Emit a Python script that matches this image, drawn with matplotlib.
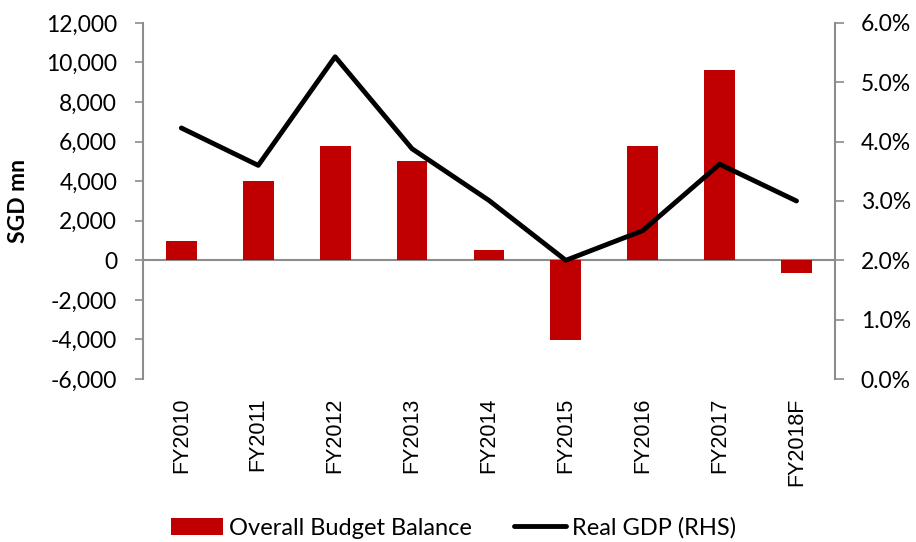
import numpy as np
import matplotlib.pyplot as plt
from matplotlib.ticker import FuncFormatter

years = ['FY2010', 'FY2011', 'FY2012', 'FY2013', 'FY2014',
         'FY2015', 'FY2016', 'FY2017', 'FY2018F']
budget_balance = [960, 4000, 5800, 5000, 540, -4050, 5800, 9600, -620]
real_gdp = [4.23, 3.60, 5.43, 3.88, 3.01, 2.00, 2.50, 3.62, 3.00]

plt.rcParams['font.family'] = ['Lato', 'DejaVu Sans']
grey = '#8c8c8c'

fig = plt.figure(figsize=(9.16, 5.42), dpi=100)
ax = fig.add_axes([0.156, 0.3007, 0.7555, 0.657])
x = np.arange(len(years))

bars = ax.bar(x, budget_balance, width=0.4, color='#c00000', zorder=2,
              label='Overall Budget Balance')
ax.axhline(0, color=grey, lw=1.5, zorder=1)
ax.set_ylim(-6000, 12000)
ax.set_yticks(np.arange(-6000, 12001, 2000))
ax.yaxis.set_major_formatter(FuncFormatter(lambda v, p: f'{int(v):,}'))
ax.set_xlim(-0.5, len(years) - 0.5)
ax.set_xticks(x)
ax.set_xticklabels(years, rotation=90, family=['Liberation Sans', 'DejaVu Sans'],
                   fontsize=15.5)
ax.tick_params(axis='x', length=0, pad=13.5)
ax.tick_params(axis='y', length=6, width=1.2, color=grey, labelsize=16.5, pad=12.5)
ax.set_ylabel('SGD mn', fontsize=16.5, fontweight='bold')
ax.yaxis.set_label_coords(-0.165, 0.5)
for s in ['top', 'bottom', 'right']:
    ax.spines[s].set_visible(False)
ax.spines['left'].set_color(grey)
ax.spines['left'].set_linewidth(1.5)

ax2 = ax.twinx()
line, = ax2.plot(x, real_gdp, color='black', lw=3.5, zorder=3,
                 solid_capstyle='round', label='Real GDP (RHS)')
ax2.set_ylim(0, 6)
ax2.set_yticks(np.arange(0, 6.01, 1))
ax2.yaxis.set_major_formatter(FuncFormatter(lambda v, p: f'{v:.1f}%'))
ax2.tick_params(axis='y', length=6.5, width=1.2, color=grey, labelsize=16.5, pad=12)
for s in ['top', 'bottom', 'left']:
    ax2.spines[s].set_visible(False)
ax2.spines['right'].set_color(grey)
ax2.spines['right'].set_linewidth(1.5)

fig.legend([bars, line], ['Overall Budget Balance', 'Real GDP (RHS)'],
           loc='center', bbox_to_anchor=(0.495, 0.026), ncol=2, frameon=False,
           fontsize=17, handlelength=2.2, handletextpad=0.25, columnspacing=1.8)

fig.savefig('out.png', dpi=100)
